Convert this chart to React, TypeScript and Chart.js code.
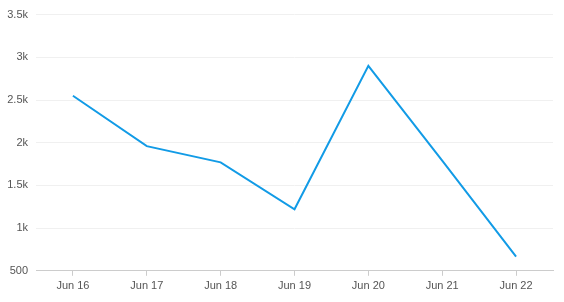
import React, { useEffect, useRef } from "react";
import { Chart, registerables } from "chart.js";

Chart.register(...registerables);

const categories = ["Jun 16", "Jun 17", "Jun 18", "Jun 19", "Jun 20", "Jun 21", "Jun 22"];
const values = [2550, 1960, 1770, 1220, 2900, 1790, 665];
const yTicks = [500, 1000, 1500, 2000, 2500, 3000, 3500];

function fmt(v: number): string {
  return v >= 1000 ? v / 1000 + "k" : String(v);
}

export default function App() {
  const ref = useRef<HTMLCanvasElement | null>(null);
  useEffect(() => {
    document.body.style.margin = "0";
    const ctx = ref.current!;
    const chart = new Chart(ctx, {
      type: "line",
      data: {
        labels: categories,
        datasets: [
          {
            data: values,
            borderColor: "#129be6",
            borderWidth: 2,
            pointRadius: 0,
            tension: 0,
            fill: false,
          },
        ],
      },
      options: {
        animation: false,
        responsive: false,
        layout: { padding: { top: 10, right: 11, bottom: 5, left: 0 } },
        plugins: { legend: { display: false }, tooltip: { enabled: false } },
        scales: {
          x: {
            offset: true,
            grid: { display: true, drawOnChartArea: false, drawTicks: true, tickLength: 5, color: "#cccccc" },
            border: { display: true, color: "#cccccc" },
            ticks: { color: "#555", font: { family: "Liberation Sans, Arial", size: 11 }, padding: 4, maxRotation: 0 },
          },
          y: {
            min: yTicks[0],
            max: yTicks[yTicks.length - 1],
            afterBuildTicks: (axis: any) => {
              axis.ticks = yTicks.map((v) => ({ value: v }));
            },
            afterFit: (axis: any) => {
              axis.width = 36;
            },
            grid: { color: "#f0f0f0", drawTicks: false },
            border: { display: false },
            ticks: {
              color: "#555",
              font: { family: "Liberation Sans, Arial", size: 11 },
              padding: 8,
              callback: (v: any) => fmt(Number(v)),
            },
          },
        },
      },
    } as any);
    return () => chart.destroy();
  }, []);
  return (
    <div style={{ width: 564, height: 302 }}>
      <canvas ref={ref} width={564} height={302} style={{ display: "block" }} />
    </div>
  );
}
